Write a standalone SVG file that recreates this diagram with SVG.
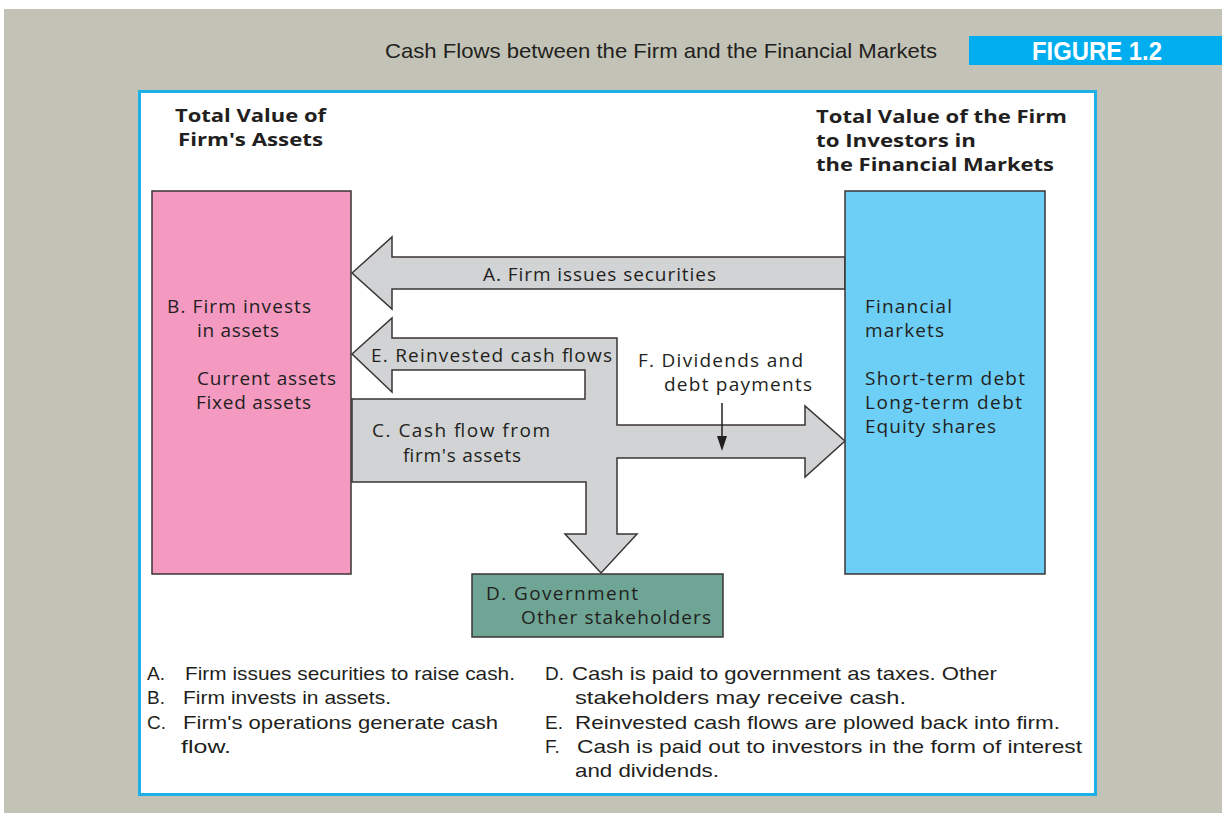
<svg xmlns="http://www.w3.org/2000/svg" width="1222" height="813" viewBox="0 0 1222 813">
<style>
.t{font-family:"Open Sans","Noto Sans",sans-serif;font-size:19px;fill:#231f20}
.h{font-family:"Open Sans","Noto Sans",sans-serif;font-size:18.5px;font-weight:bold;fill:#231f20}
.l{font-family:"Liberation Sans",Arial,sans-serif;font-size:19px;fill:#231f20}
.box{stroke:#3b3535;stroke-width:1.5}
.flow{fill:#d1d3d4;stroke:#3b3535;stroke-width:1.5;stroke-linejoin:miter}
</style>
<rect x="0" y="0" width="1222" height="813" fill="#ffffff"/>
<rect x="4" y="9" width="1218" height="804" fill="#c2c3b6"/>
<text x="937" y="58" text-anchor="end" font-family="Liberation Sans, Arial, sans-serif" font-size="21" fill="#231f20" textLength="552" lengthAdjust="spacingAndGlyphs">Cash Flows between the Firm and the Financial Markets</text>
<rect x="969" y="36" width="253" height="29" fill="#00aeef"/>
<text x="1032" y="60" font-family="Liberation Sans, Arial, sans-serif" font-size="26" font-weight="bold" fill="#ffffff" textLength="130" lengthAdjust="spacingAndGlyphs">FIGURE 1.2</text>
<rect x="139.5" y="91.5" width="956" height="703" fill="#ffffff" stroke="#1cb0e6" stroke-width="3"/>

<g id="headings">
<text class="h" x="175" y="122" textLength="151" lengthAdjust="spacingAndGlyphs">Total Value of</text>
<text class="h" x="178" y="146" textLength="145" lengthAdjust="spacingAndGlyphs">Firm's Assets</text>
<text class="h" x="816" y="123" textLength="251" lengthAdjust="spacingAndGlyphs">Total Value of the Firm</text>
<text class="h" x="816" y="147" textLength="160" lengthAdjust="spacingAndGlyphs">to Investors in</text>
<text class="h" x="816" y="171" textLength="238" lengthAdjust="spacingAndGlyphs">the Financial Markets</text>
</g>

<g id="connectors">
<polygon class="flow" points="352,273 392,237 392,257 845,257 845,289 392,289 392,309"/>
<polygon class="flow" points="352,354 392,318 392,338 617,338 617,425 805,425 805,406 845,441 805,477 805,458 617,458 617,534 637,534 601,573 565,534 586,534 586,482 352,482 352,399 585,399 585,370 392,370 392,392"/>
<line x1="722" y1="403" x2="722" y2="438" stroke="#231f20" stroke-width="1.5"/>
<polygon points="717,436 727,436 722,451" fill="#231f20"/>
<text class="t" x="483" y="281" textLength="233">A. Firm issues securities</text>
<text class="t" x="371" y="362" textLength="241">E. Reinvested cash flows</text>
<text class="t" x="638" y="367" textLength="165">F. Dividends and</text>
<text class="t" x="664" y="391" textLength="148">debt payments</text>
<text class="t" x="372" y="437" textLength="178">C. Cash flow from</text>
<text class="t" x="403" y="462" textLength="118">firm's assets</text>
</g>

<g id="node-assets">
<rect class="box" x="152" y="191" width="199" height="383" fill="#f49ac1"/>
<text class="t" x="167" y="313" textLength="144">B. Firm invests</text>
<text class="t" x="197" y="337" textLength="82">in assets</text>
<text class="t" x="197" y="385" textLength="139">Current assets</text>
<text class="t" x="196" y="409" textLength="115">Fixed assets</text>
</g>

<g id="node-markets">
<rect class="box" x="845" y="191" width="200" height="383" fill="#6dcff6"/>
<text class="t" x="865" y="313" textLength="87">Financial</text>
<text class="t" x="865" y="337" textLength="79">markets</text>
<text class="t" x="865" y="385" textLength="160">Short-term debt</text>
<text class="t" x="865" y="409" textLength="157">Long-term debt</text>
<text class="t" x="865" y="433" textLength="131">Equity shares</text>
</g>

<g id="node-government">
<rect class="box" x="472" y="574" width="251" height="63" fill="#6ea594"/>
<text class="t" x="486" y="600" textLength="152">D. Government</text>
<text class="t" x="521" y="624" textLength="190">Other stakeholders</text>
</g>

<g id="legend">
<text class="l" x="147" y="680">A.</text>
<text class="l" x="185" y="680" textLength="330" lengthAdjust="spacingAndGlyphs">Firm issues securities to raise cash.</text>
<text class="l" x="147" y="704">B.</text>
<text class="l" x="183" y="704" textLength="208" lengthAdjust="spacingAndGlyphs">Firm invests in assets.</text>
<text class="l" x="147" y="729">C.</text>
<text class="l" x="183" y="729" textLength="315" lengthAdjust="spacingAndGlyphs">Firm's operations generate cash</text>
<text class="l" x="181" y="753" textLength="50" lengthAdjust="spacingAndGlyphs">flow.</text>
<text class="l" x="545" y="680">D.</text>
<text class="l" x="572" y="680" textLength="425" lengthAdjust="spacingAndGlyphs">Cash is paid to government as taxes. Other</text>
<text class="l" x="575" y="704" textLength="331" lengthAdjust="spacingAndGlyphs">stakeholders may receive cash.</text>
<text class="l" x="545" y="729">E.</text>
<text class="l" x="575" y="729" textLength="485" lengthAdjust="spacingAndGlyphs">Reinvested cash flows are plowed back into firm.</text>
<text class="l" x="545" y="753">F.</text>
<text class="l" x="577" y="753" textLength="505" lengthAdjust="spacingAndGlyphs">Cash is paid out to investors in the form of interest</text>
<text class="l" x="575" y="777" textLength="144" lengthAdjust="spacingAndGlyphs">and dividends.</text>
</g>
</svg>
